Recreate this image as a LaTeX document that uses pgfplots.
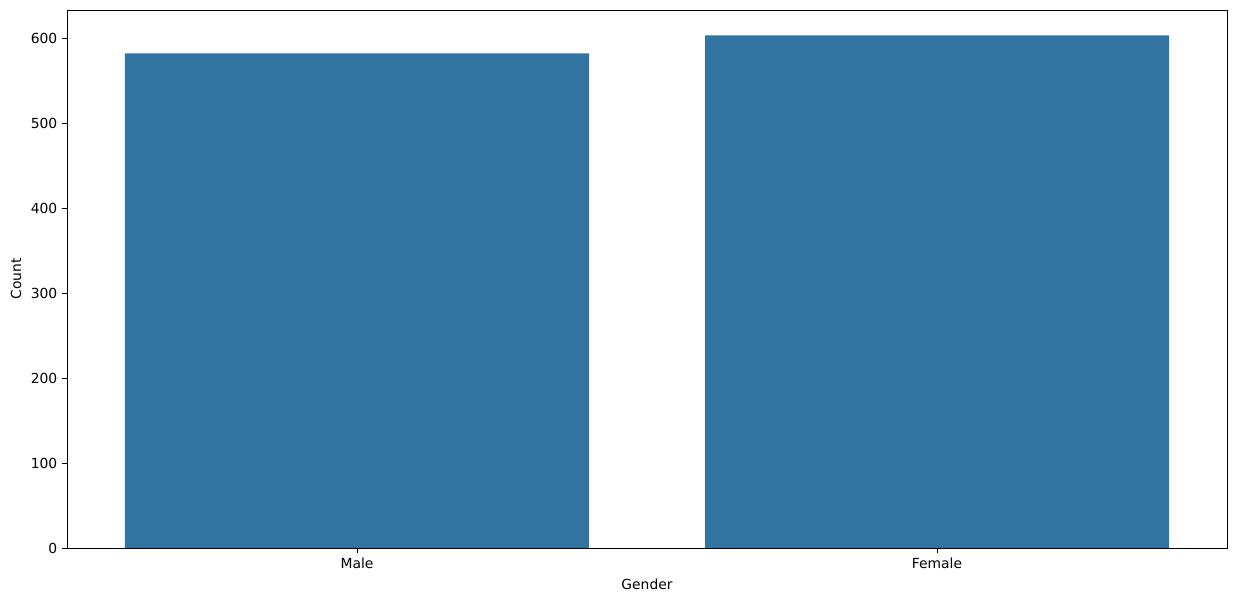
\documentclass[border=0pt]{standalone}
\usepackage{pgfplots}
\pgfplotsset{compat=1.18}
\usepackage{fontspec}
\setmainfont{DejaVu Sans}
\definecolor{barblue}{RGB}{50,116,161}
\begin{document}
\fontsize{10.4}{12}\selectfont
\begin{tikzpicture}
\begin{axis}[
  at={(0,0)}, anchor=south west,
  scale only axis,
  width=870pt, height=403.5pt,
  xmin=-0.5, xmax=1.5,
  ymin=0, ymax=633,
  xtick={0,1}, xticklabels={Male,Female},
  ytick={0,100,200,300,400,500,600},
  tick align=outside,
  tick pos=left,
  major tick length=3.6pt,
  tick style={black, line width=0.6pt},
  axis line style={line width=0.6pt},
  /pgf/number format/assume math mode=true,
  ticklabel style={font=\fontsize{10.4}{12}\selectfont},
  label style={font=\fontsize{10.4}{12}\selectfont},
  xlabel={Gender}, ylabel={Count},
  xlabel style={yshift=-1pt},
  ylabel style={yshift=0pt},
  ybar, bar width=348pt,
  bar shift=0pt,
]
\addplot[fill=barblue, draw=none] coordinates {(0,582) (1,603)};
\end{axis}
\path[use as bounding box] (-50.25pt,-40.5pt) rectangle (878.25pt,411pt);
\end{tikzpicture}
\end{document}
